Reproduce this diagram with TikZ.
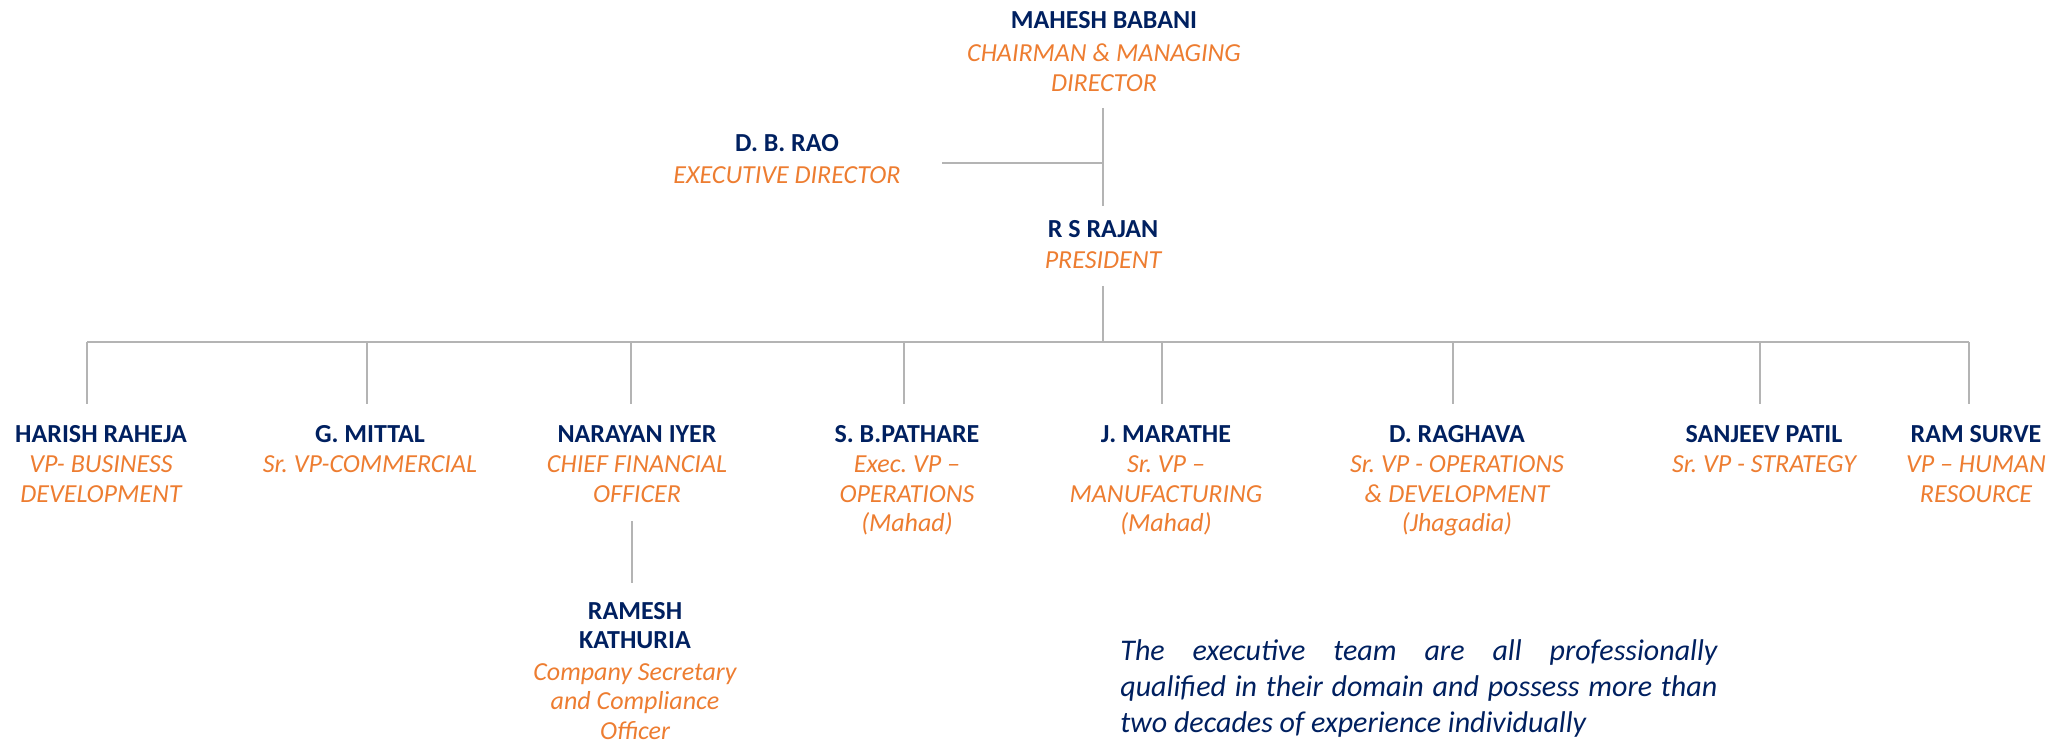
\documentclass[tikz,border=0pt]{standalone}
\usepackage{fontspec}
\setmainfont{Carlito}
\definecolor{navy}{HTML}{002060}
\definecolor{orng}{HTML}{ED7D31}
\definecolor{conn}{HTML}{B4B4B4}
\frenchspacing
\begin{document}
\begin{tikzpicture}[x=0.5pt,y=-0.5pt,
  fixsp/.style={execute at begin node={\spaceskip=\fontdimen2\font\relax\xspaceskip=\fontdimen2\font\relax}},
  nm/.style={font=\fontsize{13}{14.75}\selectfont\bfseries, text=navy, inner sep=0pt, anchor=base, text width=150pt, align=center, fixsp},
  ttl/.style={font=\fontsize{13}{14.75}\selectfont\itshape, text=orng, inner sep=0pt, anchor=base, text width=150pt, align=center, fixsp},
  link/.style={draw=conn, line width=0.6pt}]
\useasboundingbox (0,0) rectangle (2058,743);

% top level
\node[nm]  (mb)  at (1104,29) {MAHESH BABANI};
\node[ttl] (mbt) at (1104,62) {CHAIRMAN \& MANAGING\\DIRECTOR};
\node[nm]  (db)  at (787,152) {D. B. RAO};
\node[ttl] (dbt) at (787,184) {EXECUTIVE DIRECTOR};
\node[nm]  (rs)  at (1103,238) {R S RAJAN};
\node[ttl] (rst) at (1103,269) {PRESIDENT};

% row of direct reports
\node[nm]  (hr)  at (101,443) {HARISH RAHEJA};
\node[ttl] (hrt) at (101,473) {VP- BUSINESS\\DEVELOPMENT};
\node[nm]  (gm)  at (370,443) {G. MITTAL};
\node[ttl] (gmt) at (370,473) {Sr. VP-COMMERCIAL};
\node[nm]  (ni)  at (637,443) {NARAYAN IYER};
\node[ttl] (nit) at (637,473) {CHIEF FINANCIAL\\OFFICER};
\node[nm]  (sb)  at (907,443) {S. B.PATHARE};
\node[ttl] (sbt) at (907,473) {Exec. VP –\\OPERATIONS\\(Mahad)};
\node[nm]  (jm)  at (1166,443) {J. MARATHE};
\node[ttl] (jmt) at (1166,473) {Sr. VP –\\MANUFACTURING\\(Mahad)};
\node[nm]  (dr)  at (1457,443) {D. RAGHAVA};
\node[ttl] (drt) at (1457,473) {Sr. VP - OPERATIONS\\\& DEVELOPMENT\\(Jhagadia)};
\node[nm]  (sp)  at (1764,443) {SANJEEV PATIL};
\node[ttl] (spt) at (1764,473) {Sr. VP - STRATEGY};
\node[nm]  (ra)  at (1976,443) {RAM SURVE};
\node[ttl] (rat) at (1976,473) {VP – HUMAN\\RESOURCE};

% below CFO
\node[nm] (rk)  at (635,619) {RAMESH\\KATHURIA};
\node[ttl] (rkt) at (635,680) {Company Secretary\\and Compliance\\Officer};

% note
\node[font=\fontsize{15}{18}\selectfont\itshape, text=navy, text width=298.5pt,
      align=justify, inner sep=0pt, anchor=base west] (note) at (1120,660)
  {The executive team are all professionally\linebreak qualified in their domain and possess more than\linebreak two decades of experience individually};

% connector points
\coordinate (mbB) at (1103,108);
\coordinate (rsT) at (1103,206);
\coordinate (dbR) at (942,163);
\coordinate (dbJ) at (1103,163);
\coordinate (rsB) at (1103,286);
\coordinate (busJ) at (1103,342);
\coordinate (busL) at (87,342);
\coordinate (busR) at (1969,342);
\foreach \k/\x in {1/87,2/367,3/631,4/904,5/1162,6/1453,7/1760,8/1969}{
  \coordinate (t\k) at (\x,342);
  \coordinate (d\k) at (\x,404);
}
\coordinate (niB) at (632,521);
\coordinate (rkT) at (632,583);

\draw[link] (mbB) -- (rsT);
\draw[link] (dbR) -- (dbJ);
\draw[link] (rsB) -- (busJ);
\draw[link] (busL) -- (busR);
\foreach \k in {1,...,8}{ \draw[link] (t\k) -- (d\k); }
\draw[link] (niB) -- (rkT);
\end{tikzpicture}
\end{document}
